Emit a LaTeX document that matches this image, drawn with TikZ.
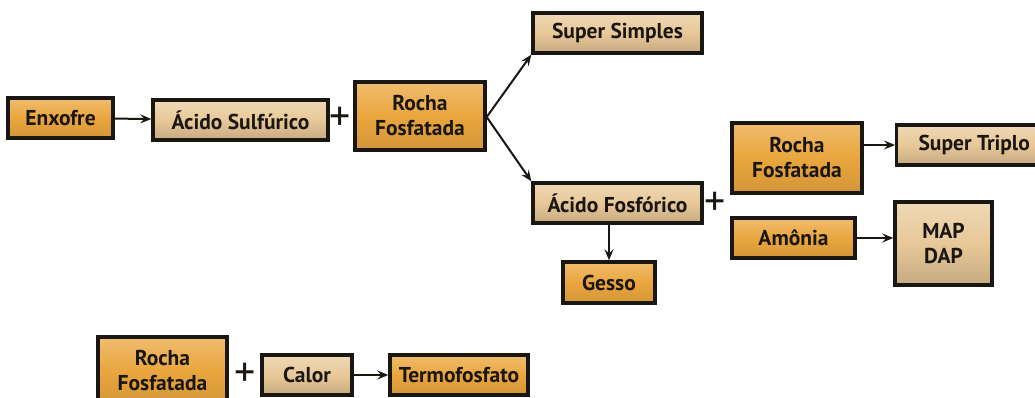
\documentclass[tikz,border=0pt]{standalone}
\usepackage{fontspec}
\setmainfont{PT Sans}
\definecolor{main}{RGB}{234,166,62}
\definecolor{second}{RGB}{232,200,152}
\definecolor{third}{RGB}{26,22,18}
\usetikzlibrary{
	arrows.meta,
	positioning,
	shadings
}
\tikzset{
  % arrow
	cstra/.style      ={-{Stealth[length=11pt,width=9pt,inset=4pt]}, line width=2pt, draw=third},
  % node
	cstnode/.style    ={draw=third,line width=3.4pt,text=third,inner sep=0pt,align=center,
	                    font=\fontsize{21.5}{25}\selectfont\bfseries},
	cstnode1/.style   ={cstnode,top color=main!75!white,bottom color=main!90!black,middle color=main},
	cstnode2/.style   ={cstnode,top color=second!70!white,bottom color=second!85!black,middle color=second},
	cstplus/.style    ={text=third,inner sep=0pt,font=\fontsize{42}{42}\selectfont}
}
\begin{document}
\begin{tikzpicture}[x=1pt,y=-1pt]
	\useasboundingbox (0,0) rectangle (1035,398);
	% linha principal
	\node[cstnode1,minimum width=105,minimum height=40] (enx) at (60.5,118) {Enxofre};
	\node[cstnode2,minimum width=175,minimum height=40] (acs) at (240.5,120) {Ácido Sulfúrico};
	\node[cstplus] (plusa) at (340.5,119) {+};
	\node[cstnode1,minimum width=130,minimum height=68] (rfa) at (420,116) {Rocha\\Fosfatada};
	\node[cstnode2,minimum width=169,minimum height=40] (ss) at (617.5,33) {Super Simples};
	\node[cstnode2,minimum width=169,minimum height=40] (af) at (617.5,203) {Ácido Fosfórico};
	\node[cstplus] (plusb) at (715.5,204) {+};
	\node[cstnode1,minimum width=92,minimum height=41] (ge) at (609,282.5) {Gesso};
	\node[cstnode1,minimum width=130,minimum height=70] (rfb) at (797,158) {Rocha\\Fosfatada};
	\node[cstnode2,minimum width=150,minimum height=40,anchor=west] (st) at (895,145) {\hspace*{15pt}Super Triplo\hspace*{10pt}};
	\node[cstnode1,minimum width=123,minimum height=40] (amo) at (793.5,238) {Amônia};
	\node[cstnode2,minimum width=97,minimum height=83] (md) at (943.5,243.5) {MAP\\DAP};
	% termofosfato
	\node[cstnode1,minimum width=129,minimum height=68] (rfc) at (162.5,371) {Rocha\\Fosfatada};
	\node[cstplus] (plusc) at (245.5,375) {+};
	\node[cstnode2,minimum width=90,minimum height=40] (cal) at (307,375) {Calor};
	\node[cstnode1,minimum width=138,minimum height=40] (tf) at (459,375) {Termofosfato};
	% setas
	\coordinate (rfae) at ([yshift=-1pt]rfa.east);
	\draw[cstra] (enx) -- (acs);
	\draw[cstra] (rfae) -- (ss.south west);
	\draw[cstra] (rfae) -- (af.north west);
	\draw[cstra] (af.south -| ge) -- (ge);
	\draw[cstra] (rfb.east |- st) -- (st);
	\draw[cstra] (amo) -- (amo -| md.west);
	\draw[cstra] (cal) -- (tf);
\end{tikzpicture}
\end{document}
